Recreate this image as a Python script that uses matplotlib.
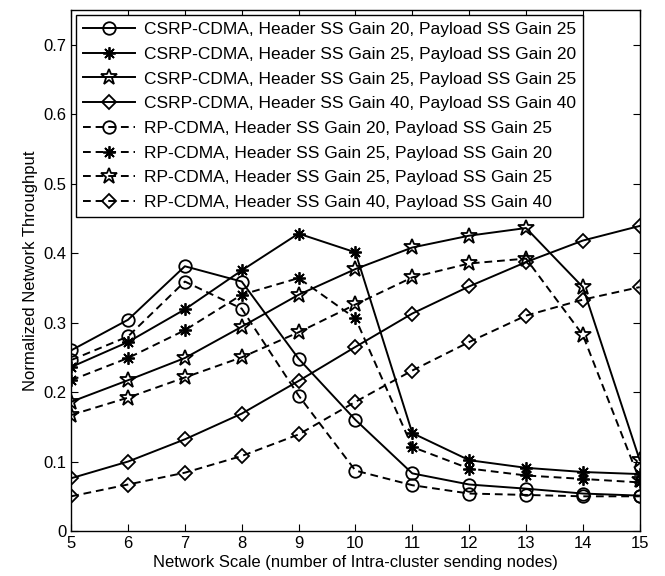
import matplotlib
matplotlib.use("Agg")
import matplotlib.pyplot as plt

plt.rcParams['font.family'] = ['Liberation Sans', 'DejaVu Sans']

# network scale (number of intra-cluster sending nodes)
nodes = [5, 6, 7, 8, 9, 10, 11, 12, 13, 14, 15]

# CSRP-CDMA
csrp_h20_p25 = [0.26, 0.304, 0.381, 0.359, 0.248, 0.16, 0.083, 0.067, 0.061, 0.054, 0.051]
csrp_h25_p20 = [0.236, 0.272, 0.319, 0.375, 0.428, 0.401, 0.141, 0.102, 0.091, 0.085, 0.082]
csrp_h25_p25 = [0.186, 0.217, 0.249, 0.294, 0.34, 0.377, 0.408, 0.425, 0.436, 0.351, 0.102]
csrp_h40_p40 = [0.076, 0.1, 0.132, 0.169, 0.216, 0.265, 0.313, 0.352, 0.387, 0.418, 0.439]

# RP-CDMA
rp_h20_p25 = [0.246, 0.28, 0.359, 0.32, 0.195, 0.087, 0.066, 0.054, 0.052, 0.05, 0.05]
rp_h25_p20 = [0.217, 0.249, 0.289, 0.34, 0.364, 0.306, 0.121, 0.09, 0.08, 0.075, 0.07]
rp_h25_p25 = [0.167, 0.192, 0.221, 0.25, 0.286, 0.326, 0.365, 0.385, 0.392, 0.282, 0.073]
rp_h40_p40 = [0.05, 0.067, 0.084, 0.108, 0.139, 0.186, 0.231, 0.272, 0.31, 0.333, 0.351]

labels = [
    "CSRP-CDMA, Header SS Gain 20, Payload SS Gain 25",
    "CSRP-CDMA, Header SS Gain 25, Payload SS Gain 20",
    "CSRP-CDMA, Header SS Gain 25, Payload SS Gain 25",
    "CSRP-CDMA, Header SS Gain 40, Payload SS Gain 40",
    "RP-CDMA, Header SS Gain 20, Payload SS Gain 25",
    "RP-CDMA, Header SS Gain 25, Payload SS Gain 20",
    "RP-CDMA, Header SS Gain 25, Payload SS Gain 25",
    "RP-CDMA, Header SS Gain 40, Payload SS Gain 40",
]

series = [csrp_h20_p25, csrp_h25_p20, csrp_h25_p25, csrp_h40_p40,
          rp_h20_p25, rp_h25_p20, rp_h25_p25, rp_h40_p40]
markers = ['o', (8, 2, 0), '*', 'D'] * 2
msizes = [9, 9, 12, 7] * 2
styles = ['-'] * 4 + [(0, (4, 2.5))] * 4

fs = 12

fig = plt.figure(figsize=(6.65, 5.76), dpi=100)
ax = fig.add_axes([0.107, 0.078, 0.855, 0.905])

for ys, lab, m, ms, ls in zip(series, labels, markers, msizes, styles):
    ax.plot(nodes, ys, color='black', linestyle=ls, linewidth=1.4,
            marker=m, markersize=ms, markerfacecolor='none',
            markeredgecolor='black', markeredgewidth=1.3, label=lab)

ax.set_xlim(5, 15)
ax.set_ylim(0, 0.75)
ax.set_xticks(nodes)
ax.set_yticks([0, 0.1, 0.2, 0.3, 0.4, 0.5, 0.6, 0.7])
ax.set_yticklabels(['0', '0.1', '0.2', '0.3', '0.4', '0.5', '0.6', '0.7'])
ax.tick_params(direction='in', top=True, right=True, labelsize=fs, length=5)
for sp in ax.spines.values():
    sp.set_linewidth(1.0)

ax.set_xlabel("Network Scale (number of Intra-cluster sending nodes)", fontsize=fs, labelpad=3)
ax.set_ylabel("Normalized Network Throughput", fontsize=fs, labelpad=4)

leg = ax.legend(loc='upper left', fontsize=12.5, frameon=True, fancybox=False,
                edgecolor='black', framealpha=1, borderaxespad=0.3,
                handlelength=3.0, labelspacing=0.55, borderpad=0.4, handletextpad=0.5)
leg.get_frame().set_linewidth(1.0)

fig.savefig("out.png", dpi=100)
